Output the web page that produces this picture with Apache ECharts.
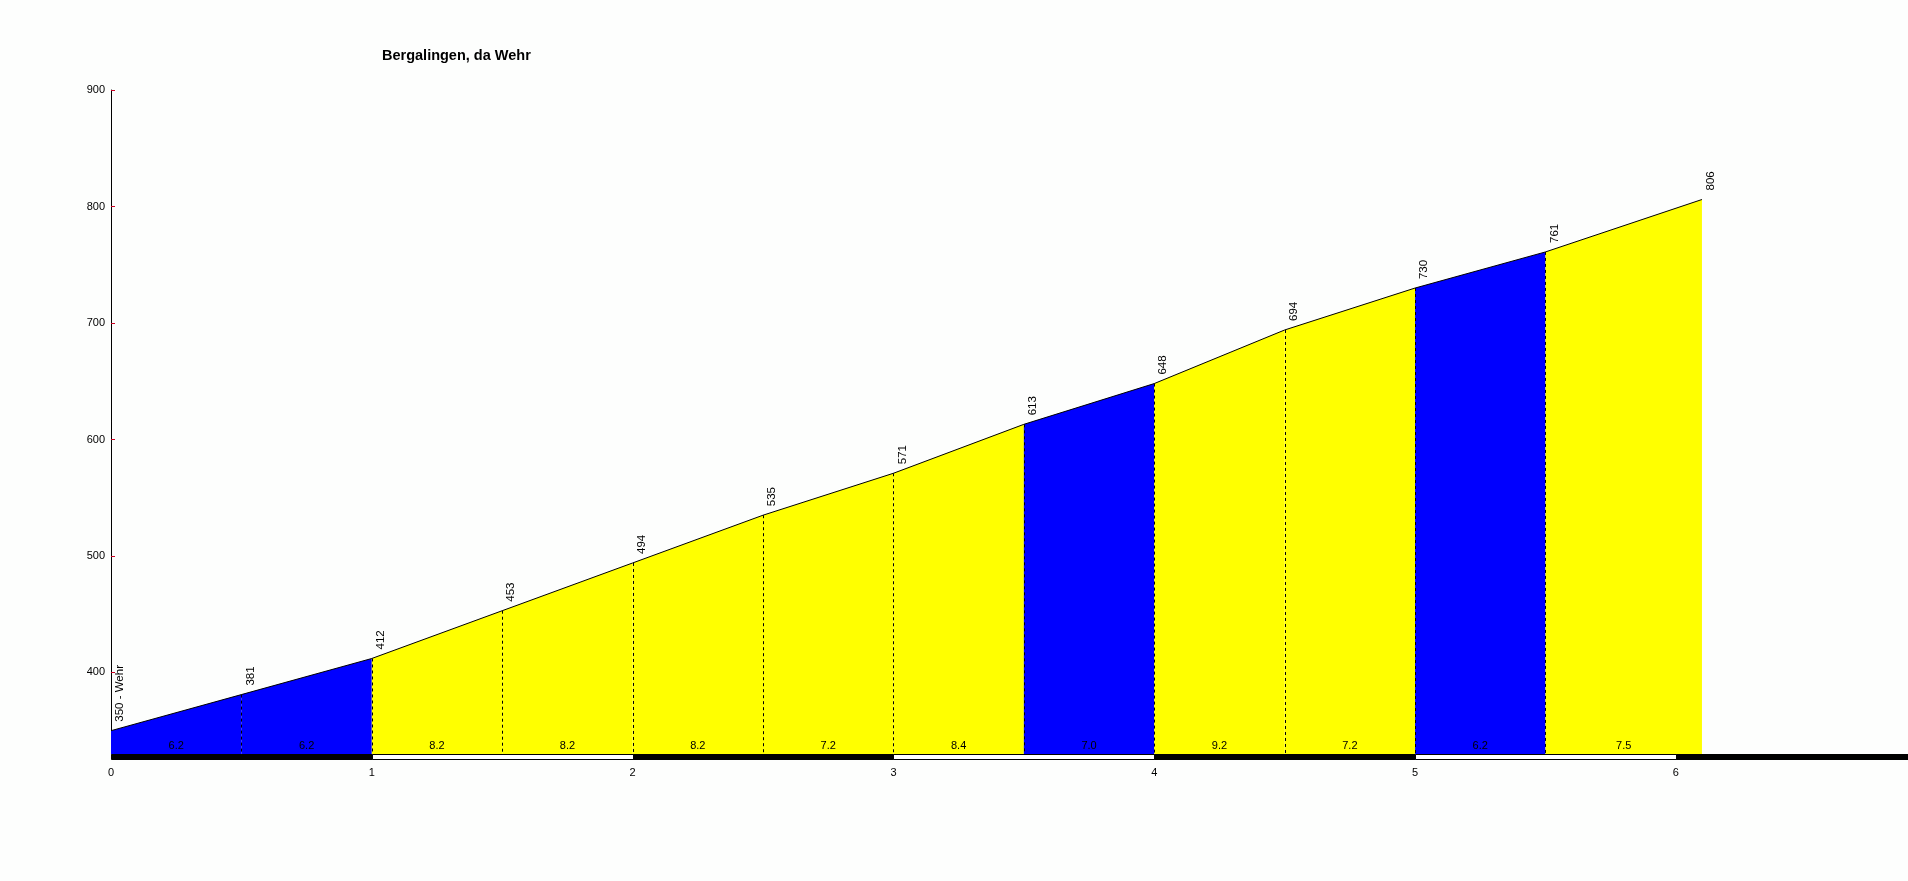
<!DOCTYPE html>
<html>
<head>
<meta charset="utf-8">
<script src="https://cdn.jsdelivr.net/npm/echarts@6/dist/echarts.min.js"></script>
<style>
html,body{margin:0;padding:0;background:#fdfefd;}
#chart{width:1908px;height:881px;}
</style>
</head>
<body>
<div id="chart"></div>
<script>
// ---- data ----
const chartTitle = 'Bergalingen, da Wehr';
const distances = [0, 0.5, 1, 1.5, 2, 2.5, 3, 3.5, 4, 4.5, 5, 5.5, 6.1];
const elevations = [350, 381, 412, 453, 494, 535, 571, 613, 648, 694, 730, 761, 806];
const elevationLabels = ['350 - Wehr', '381', '412', '453', '494', '535', '571', '613', '648', '694', '730', '761', '806'];
const gradients = [6.2, 6.2, 8.2, 8.2, 8.2, 7.2, 8.4, 7.0, 9.2, 7.2, 6.2, 7.5];
const xTickValues = [0, 1, 2, 3, 4, 5, 6];
const yTickValues = [400, 500, 600, 700, 800, 900];
const kmBandStarts = [0, 1, 2, 3, 4, 5, 6];
const yMin = 330, yMax = 900, xMax = 6.89;

// ---- styles ----
const FONT = 'Liberation Sans, Arial, sans-serif';
function segColor(g) { return g <= 7.0 ? '#0000ff' : '#ffff00'; }

const segData = gradients.map((g, i) => [distances[i], elevations[i], distances[i + 1], elevations[i + 1], g, i]);
const bandData = kmBandStarts.map((s, i) => [s, Math.min(s + 1, xMax), i % 2]);
const profile = distances.map((d, i) => [d, elevations[i], i]);

const chart = echarts.init(document.getElementById('chart'), null, {renderer: 'canvas'});
chart.setOption({
  backgroundColor: '#fdfefd',
  animation: false,
  title: {
    text: chartTitle, left: 377, top: 43,
    textStyle: {fontFamily: FONT, fontSize: 14.5, fontWeight: 'bold', color: '#000'}
  },
  grid: {left: 111, right: 0, top: 90, bottom: 127, containLabel: false},
  xAxis: {
    type: 'value', min: 0, max: xMax, interval: 1,
    axisLine: {show: false}, axisTick: {show: false}, splitLine: {show: false},
    axisLabel: {
      customValues: xTickValues,
      fontFamily: FONT, fontSize: 11, color: '#000', margin: 13
    }
  },
  yAxis: {
    type: 'value', min: yMin, max: yMax,
    axisLine: {show: true, lineStyle: {color: '#000', width: 1}},
    axisTick: {show: true, inside: true, length: 4, customValues: yTickValues, lineStyle: {color: '#cc0022', width: 1}},
    axisLabel: {customValues: yTickValues, fontFamily: FONT, fontSize: 11, color: '#000', margin: 6},
    splitLine: {show: false}
  },
  series: [
    {
      type: 'custom', name: 'segments', data: segData, clip: false, z: 2,
      renderItem: function (params, api) {
        const x0 = api.value(0), y0 = api.value(1), x1 = api.value(2), y1 = api.value(3);
        const g = api.value(4), idx = api.value(5);
        const pB0 = api.coord([x0, yMin]), pT0 = api.coord([x0, y0]);
        const pB1 = api.coord([x1, yMin]), pT1 = api.coord([x1, y1]);
        const children = [{
          type: 'polygon',
          shape: {points: [pB0, pT0, pT1, pB1]},
          style: {fill: segColor(g), stroke: null}
        }];
        if (idx < gradients.length - 1) {
          children.push({
            type: 'line', z2: 5,
            shape: {x1: Math.round(pT1[0]) + 0.5, y1: pT1[1], x2: Math.round(pB1[0]) + 0.5, y2: pB1[1]},
            style: {stroke: '#000', lineWidth: 1, lineDash: [3, 3]}
          });
        }
        children.push({
          type: 'text', z2: 6,
          x: (pB0[0] + pB1[0]) / 2, y: pB0[1] - 8,
          style: {text: g.toFixed(1), fill: '#000', font: '11px ' + FONT, align: 'center', verticalAlign: 'middle'}
        });
        return {type: 'group', children: children};
      }
    },
    {
      type: 'line', name: 'profile', data: profile, z: 3,
      showSymbol: false, symbol: 'none',
      lineStyle: {color: '#000', width: 1}
    },
    {
      type: 'custom', name: 'elevLabels', data: profile, clip: false, z: 4,
      renderItem: function (params, api) {
        const p = api.coord([api.value(0), api.value(1)]);
        return {
          type: 'text', x: p[0] + 3, y: p[1] - 9, rotation: Math.PI / 2,
          style: {text: elevationLabels[api.value(2)], fill: '#000', font: '11.5px ' + FONT, align: 'left', verticalAlign: 'top'}
        };
      }
    },
    {
      type: 'custom', name: 'kmBands', data: bandData, clip: false, z: 5,
      renderItem: function (params, api) {
        const a = api.coord([api.value(0), yMin]);
        const b = api.coord([api.value(1), yMin]);
        const white = api.value(2) === 1;
        return {
          type: 'rect',
          shape: {x: Math.round(a[0]) + 0.5, y: Math.round(a[1]) + 0.5, width: Math.round(b[0] - a[0]), height: 5},
          style: {fill: white ? '#ffffff' : '#000000', stroke: '#000', lineWidth: 1}
        };
      }
    }
  ]
});
</script>
</body>
</html>
